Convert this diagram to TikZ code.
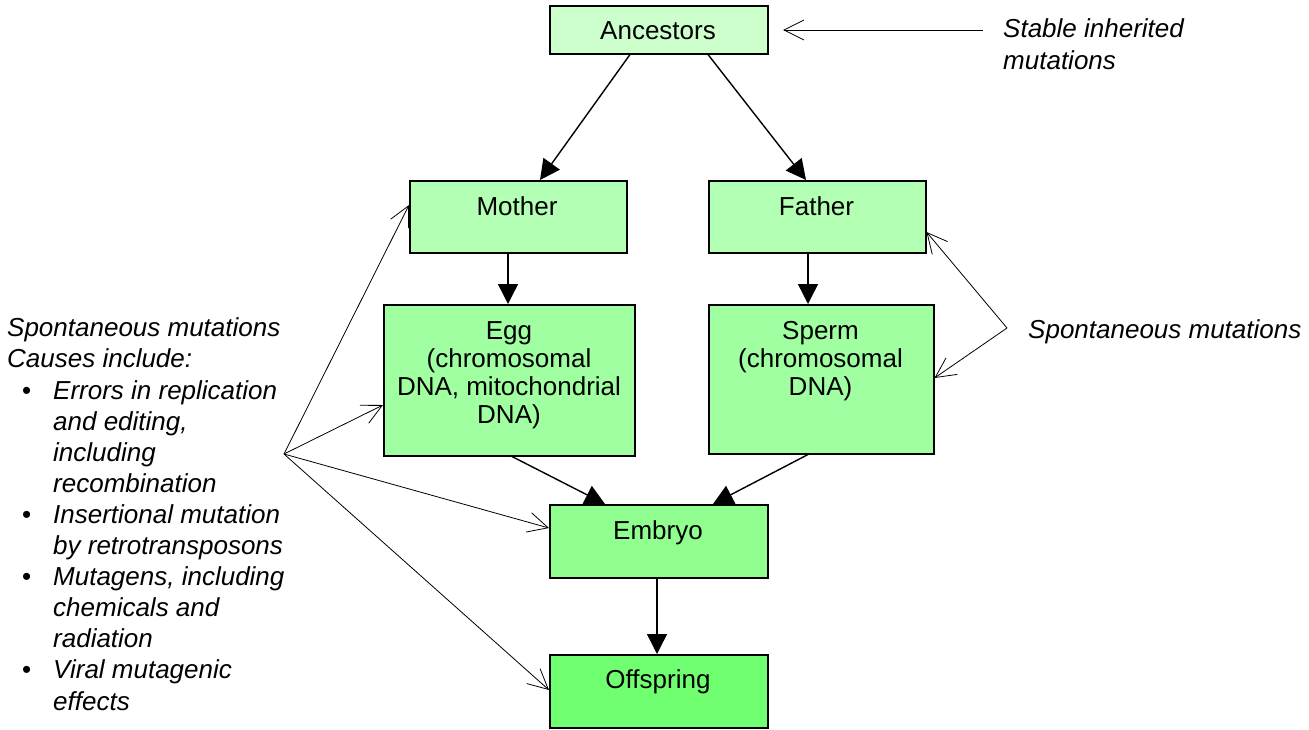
\documentclass[tikz,border=0pt]{standalone}
\usepackage{fontspec}
\setmainfont{Liberation Sans}
\usetikzlibrary{arrows.meta}
\definecolor{c1}{HTML}{CCFFCC}
\definecolor{c2}{HTML}{B3FFB3}
\definecolor{c3}{HTML}{A0FFA0}
\definecolor{c4}{HTML}{90FF90}
\definecolor{c5}{HTML}{70FF70}
\newcommand\bitemx{\hspace*{15pt}\makebox[31pt][l]{\upshape•}}
\newcommand\bindx{\hspace*{46pt}}
\begin{document}
\begin{tikzpicture}[x=1pt,y=-1pt,
 box/.style={draw=black, line width=1.5pt, inner sep=0pt, anchor=north west},
 lbl/.style={font=\fontsize{26}{28}\selectfont, align=center, anchor=base, inner sep=0pt},
 heavy/.style={line width=1.4pt, -{Triangle[length=20pt,width=20pt]}},
 thin/.style={line width=0.8pt, -{Straight Barb[length=20pt,width=20pt]}},
 note/.style={font=\fontsize{26}{31.1}\selectfont\itshape, align=left, anchor=base west, inner sep=0pt}]
\useasboundingbox (0,0) rectangle (1309,729);
% boxes
\node[box, fill=c1, minimum width=218pt, minimum height=48pt] (anc) at (549,5) {};
\node[box, fill=c2, minimum width=217pt, minimum height=72pt] (mother) at (409,180) {};
\node[box, fill=c2, minimum width=217pt, minimum height=72pt] (father) at (708,180) {};
\node[box, fill=c3, minimum width=251pt, minimum height=151pt] (egg) at (383,304) {};
\node[box, fill=c3, minimum width=225pt, minimum height=149pt] (sperm) at (708,304) {};
\node[box, fill=c4, minimum width=218pt, minimum height=73pt] (embryo) at (549,504) {};
\node[box, fill=c5, minimum width=218pt, minimum height=73pt] (offspring) at (549,654) {};
% box texts (base anchor = last line baseline)
\node[lbl] (ancT) at (658,39) {Ancestors};
\node[lbl] (motherT) at (517,215) {Mother};
\node[lbl] (fatherT) at (816.5,215) {Father};
\node[lbl] (eggT) at (509,423) {Egg\\(chromosomal\\DNA, mitochondrial\\DNA)};
\node[lbl] (spermT) at (820.5,395) {Sperm\\(chromosomal\\DNA)};
\node[lbl] (embryoT) at (658,539) {Embryo};
\node[lbl] (offspringT) at (658,688) {Offspring};
% heavy arrows
\draw[heavy] (anc.south -| 630,0) -- (mother.north -| 540,0);
\draw[heavy] (anc.south -| 708,0) -- (father.north -| 806,0);
\draw[heavy] (mother.south -| 508,0) -- (egg.north -| 508,0);
\draw[heavy] (father.south -| 808,0) -- (sperm.north -| 808,0);
\draw[heavy] (egg.south -| 512,0) -- (embryo.north -| 605,0);
\draw[heavy] (sperm.south -| 808,0) -- (embryo.north -| 713,0);
\draw[heavy] (embryo.south -| 657,0) -- (offspring.north -| 657,0);
% notes
\node[note] (stable) at (1003,69) {Stable inherited\\mutations};
\node[note] (spR) at (1028,338) {Spontaneous mutations};
\node[note] (spL) at (7,710) {Spontaneous mutations\\Causes include:\\
\bitemx Errors in replication\\
\bindx and editing,\\
\bindx including\\
\bindx recombination\\
\bitemx Insertional mutation\\
\bindx by retrotransposons\\
\bitemx Mutagens, including\\
\bindx chemicals and\\
\bindx radiation\\
\bitemx Viral mutagenic\\
\bindx effects};
% thin arrows
\coordinate (st1) at (983,30);
\coordinate (st2) at (783,30);
\draw[thin] (st1) -- (st2);
\coordinate (lf) at (284,454);
\draw[thin] (lf) -- (mother.west |- 0,205);
\draw[thin] (lf) -- (egg.west |- 0,405);
\draw[thin] (lf) -- (embryo.west |- 0,528);
\draw[thin] (lf) -- (offspring.west |- 0,690);
\coordinate (rf) at (1007,328);
\draw[thin] (rf) -- (father.east |- 0,232);
\draw[thin] (rf) -- (sperm.east |- 0,378);
\end{tikzpicture}
\end{document}
